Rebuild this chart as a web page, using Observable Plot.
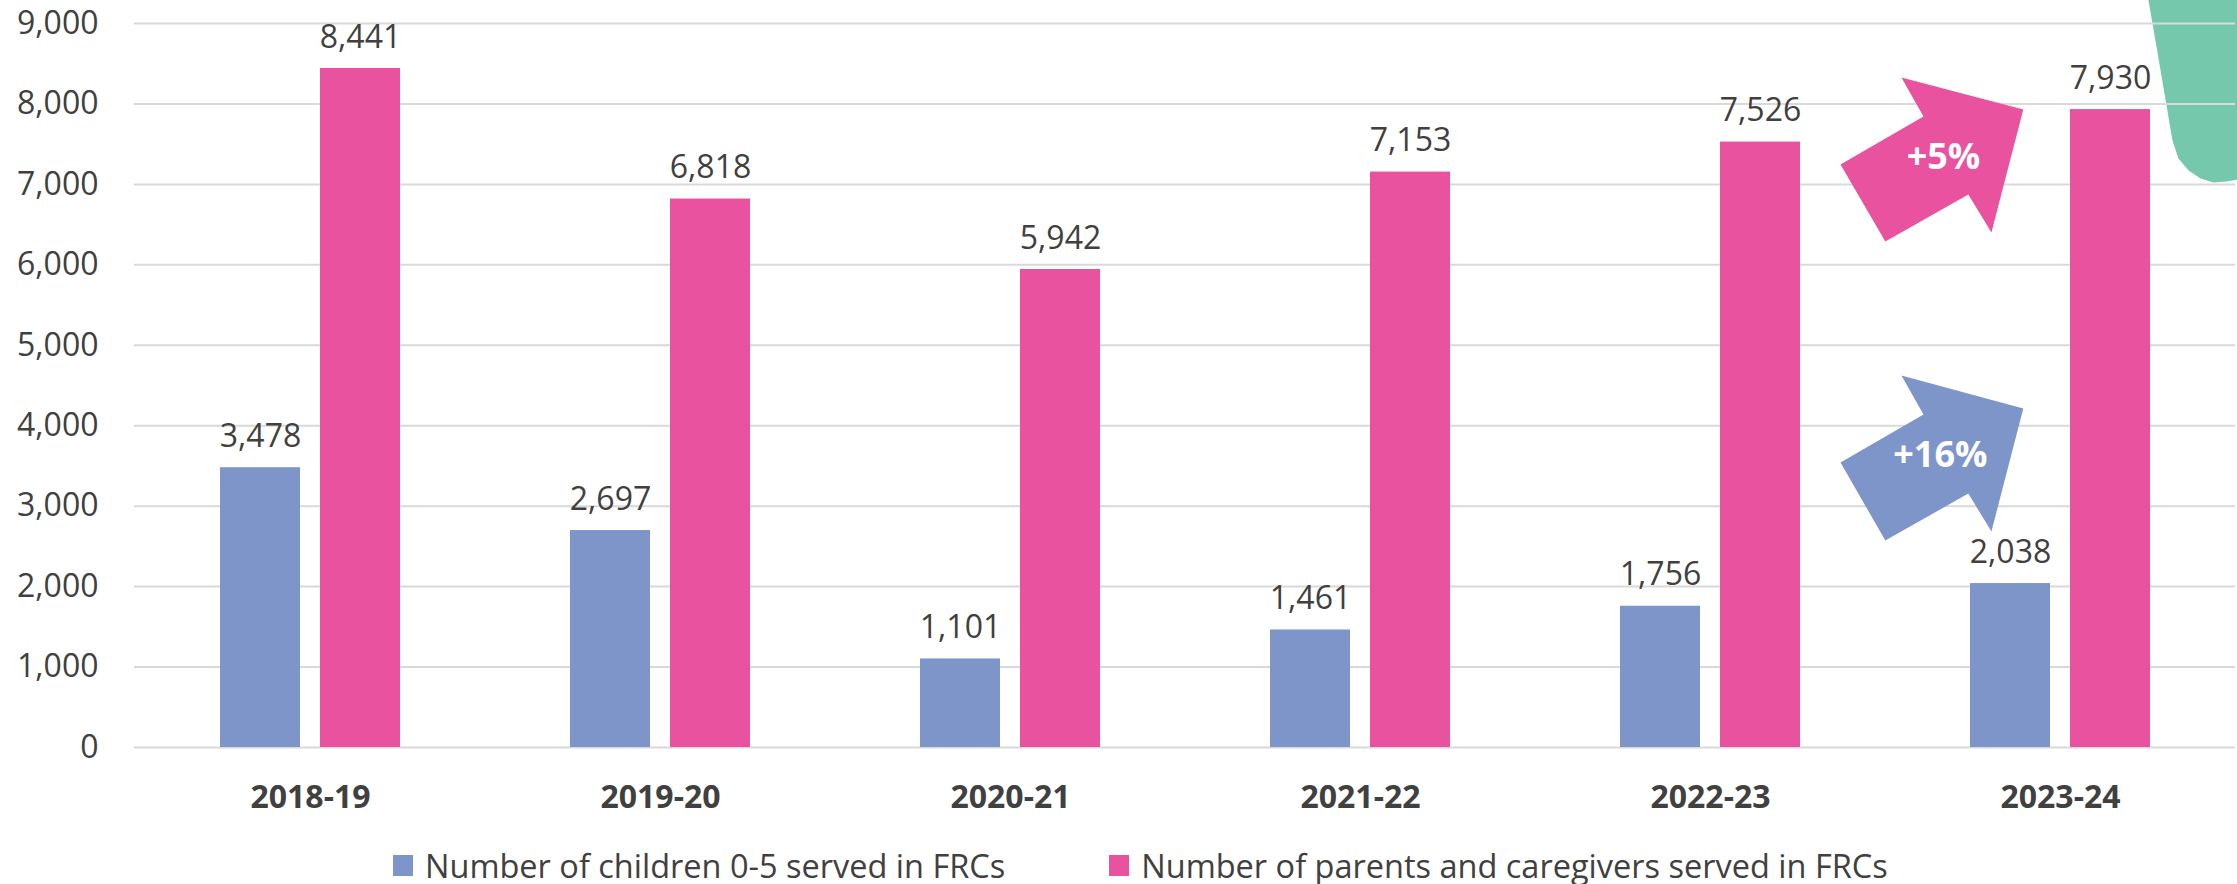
<!DOCTYPE html>
<html>
<head>
<meta charset="utf-8">
<script src="https://cdn.jsdelivr.net/npm/d3@7"></script>
<script src="https://cdn.jsdelivr.net/npm/@observablehq/plot@0.6"></script>
<style>
  html, body { margin: 0; padding: 0; background: #fff; }
  body { font-family: "Open Sans", sans-serif; color: #404040; width: 2237px; }
  #chart { position: relative; width: 2237px; height: 830px; }
  #chart > svg { position: absolute; left: 0; top: 0; }
  #legend { display: flex; align-items: center; height: 70px; padding-left: 393px; font-size: 32.5px; color: #404040; }
  .item { display: flex; align-items: center; }
  .sw { width: 20px; height: 21px; margin-right: 12px; }
</style>
</head>
<body>
<div id="chart"></div>
<div id="legend"></div>
<script>
// ---- data ----
const years = ["2018-19", "2019-20", "2020-21", "2021-22", "2022-23", "2023-24"];
const children = [3478, 2697, 1101, 1461, 1756, 2038];
const parents = [8441, 6818, 5942, 7153, 7526, 7930];
const seriesNames = ["Number of children 0-5 served in FRCs", "Number of parents and caregivers served in FRCs"];
const seriesColors = ["#7E95CA", "#E8529E"];
const yTicks = [0, 1000, 2000, 3000, 4000, 5000, 6000, 7000, 8000, 9000];

// annotation shapes in data units (x: year-band index 0..6, y: value)
const arrowParentsX = [5.394, 5.046, 5.109, 4.872, 5.000, 5.237, 5.303];
const arrowParentsY = [7931, 8329, 7844, 7247, 6290, 6874, 6402];
const arrowChildrenX = [5.394, 5.046, 5.109, 4.872, 5.000, 5.237, 5.303];
const arrowChildrenY = [4214, 4624, 4140, 3543, 2573, 3157, 2685];
const arrowLabels = ["+5%", "+16%"];
const arrowLabelX = [5.166, 5.157];
const arrowLabelY = [7334, 3630];
const tealX = [5.751, 5.786, 5.820, 5.837, 5.866, 5.900, 5.937, 5.974, 6.010, 6.010];
const tealY = [9300, 8416, 7546, 7322, 7173, 7073, 7024, 7036, 7061, 9300];

// ---- build tables ----
const childRows = years.map((year, i) => ({year, value: children[i]}));
const parentRows = years.map((year, i) => ({year, value: parents[i]}));
const pts = (xs, ys) => xs.map((x, i) => ({x, y: ys[i]}));
const fmt = d3.format(",");

const W = 2237, H = 830;
const frame = {width: W, height: H, marginTop: 23, marginBottom: 83, marginLeft: 134, marginRight: 2};
const baseStyle = {fontFamily: "Open Sans", fontSize: "32px", color: "#404040", background: "transparent", overflow: "visible"};

// background overlay: teal decorative shape
const bg = Plot.plot({
  ...frame, style: baseStyle,
  x: {type: "linear", domain: [0, 6], axis: null},
  y: {domain: [0, 9000], axis: null},
  marks: [
    Plot.line(pts(tealX, tealY), {x: "x", y: "y", curve: "linear-closed", fill: "#76C8AD", stroke: "none"})
  ]
});

// main chart
const main = Plot.plot({
  ...frame, style: baseStyle,
  x: {domain: years, padding: 0},
  y: {domain: [0, 9000]},
  marks: [
    Plot.gridY(yTicks, {stroke: "#D9D9D9", strokeOpacity: 1, strokeWidth: 2}),
    Plot.barY(childRows, {x: "year", y: "value", fill: seriesColors[0], insetLeft: 85, insetRight: 185}),
    Plot.barY(parentRows, {x: "year", y: "value", fill: seriesColors[1], insetLeft: 185, insetRight: 85}),
    Plot.text(childRows, {x: "year", y: "value", text: d => fmt(d.value), dx: -50, dy: -31, fill: "#404040", fontSize: 32}),
    Plot.text(parentRows, {x: "year", y: "value", text: d => fmt(d.value), dx: 50, dy: -31, fill: "#404040", fontSize: 32}),
    Plot.axisY(yTicks, {tickFormat: d => fmt(d), tickSize: 0, tickPadding: 36, label: null, fontSize: 32, fill: "#404040"}),
    Plot.axisX({tickSize: 0, tickPadding: 38, label: null, fontSize: 32, fontWeight: "bold", fill: "#404040"})
  ]
});

// foreground overlay: growth arrows
const fg = Plot.plot({
  ...frame, style: baseStyle,
  x: {type: "linear", domain: [0, 6], axis: null},
  y: {domain: [0, 9000], axis: null},
  marks: [
    Plot.line(pts(arrowParentsX, arrowParentsY), {x: "x", y: "y", curve: "linear-closed", fill: seriesColors[1], stroke: "none"}),
    Plot.line(pts(arrowChildrenX, arrowChildrenY), {x: "x", y: "y", curve: "linear-closed", fill: seriesColors[0], stroke: "none"}),
    Plot.text(arrowLabels.map((t, i) => ({t, x: arrowLabelX[i], y: arrowLabelY[i]})), {x: "x", y: "y", text: "t", fill: "white", fontWeight: "bold", fontSize: 36})
  ]
});

const chart = document.getElementById("chart");
chart.append(bg, main, fg);

// legend
const legend = document.getElementById("legend");
seriesNames.forEach((name, i) => {
  const item = document.createElement("div");
  item.className = "item";
  if (i > 0) item.style.marginLeft = "104px";
  const sw = document.createElement("div");
  sw.className = "sw";
  sw.style.background = seriesColors[i];
  const label = document.createElement("span");
  label.textContent = name;
  item.append(sw, label);
  legend.append(item);
});
</script>
</body>
</html>
